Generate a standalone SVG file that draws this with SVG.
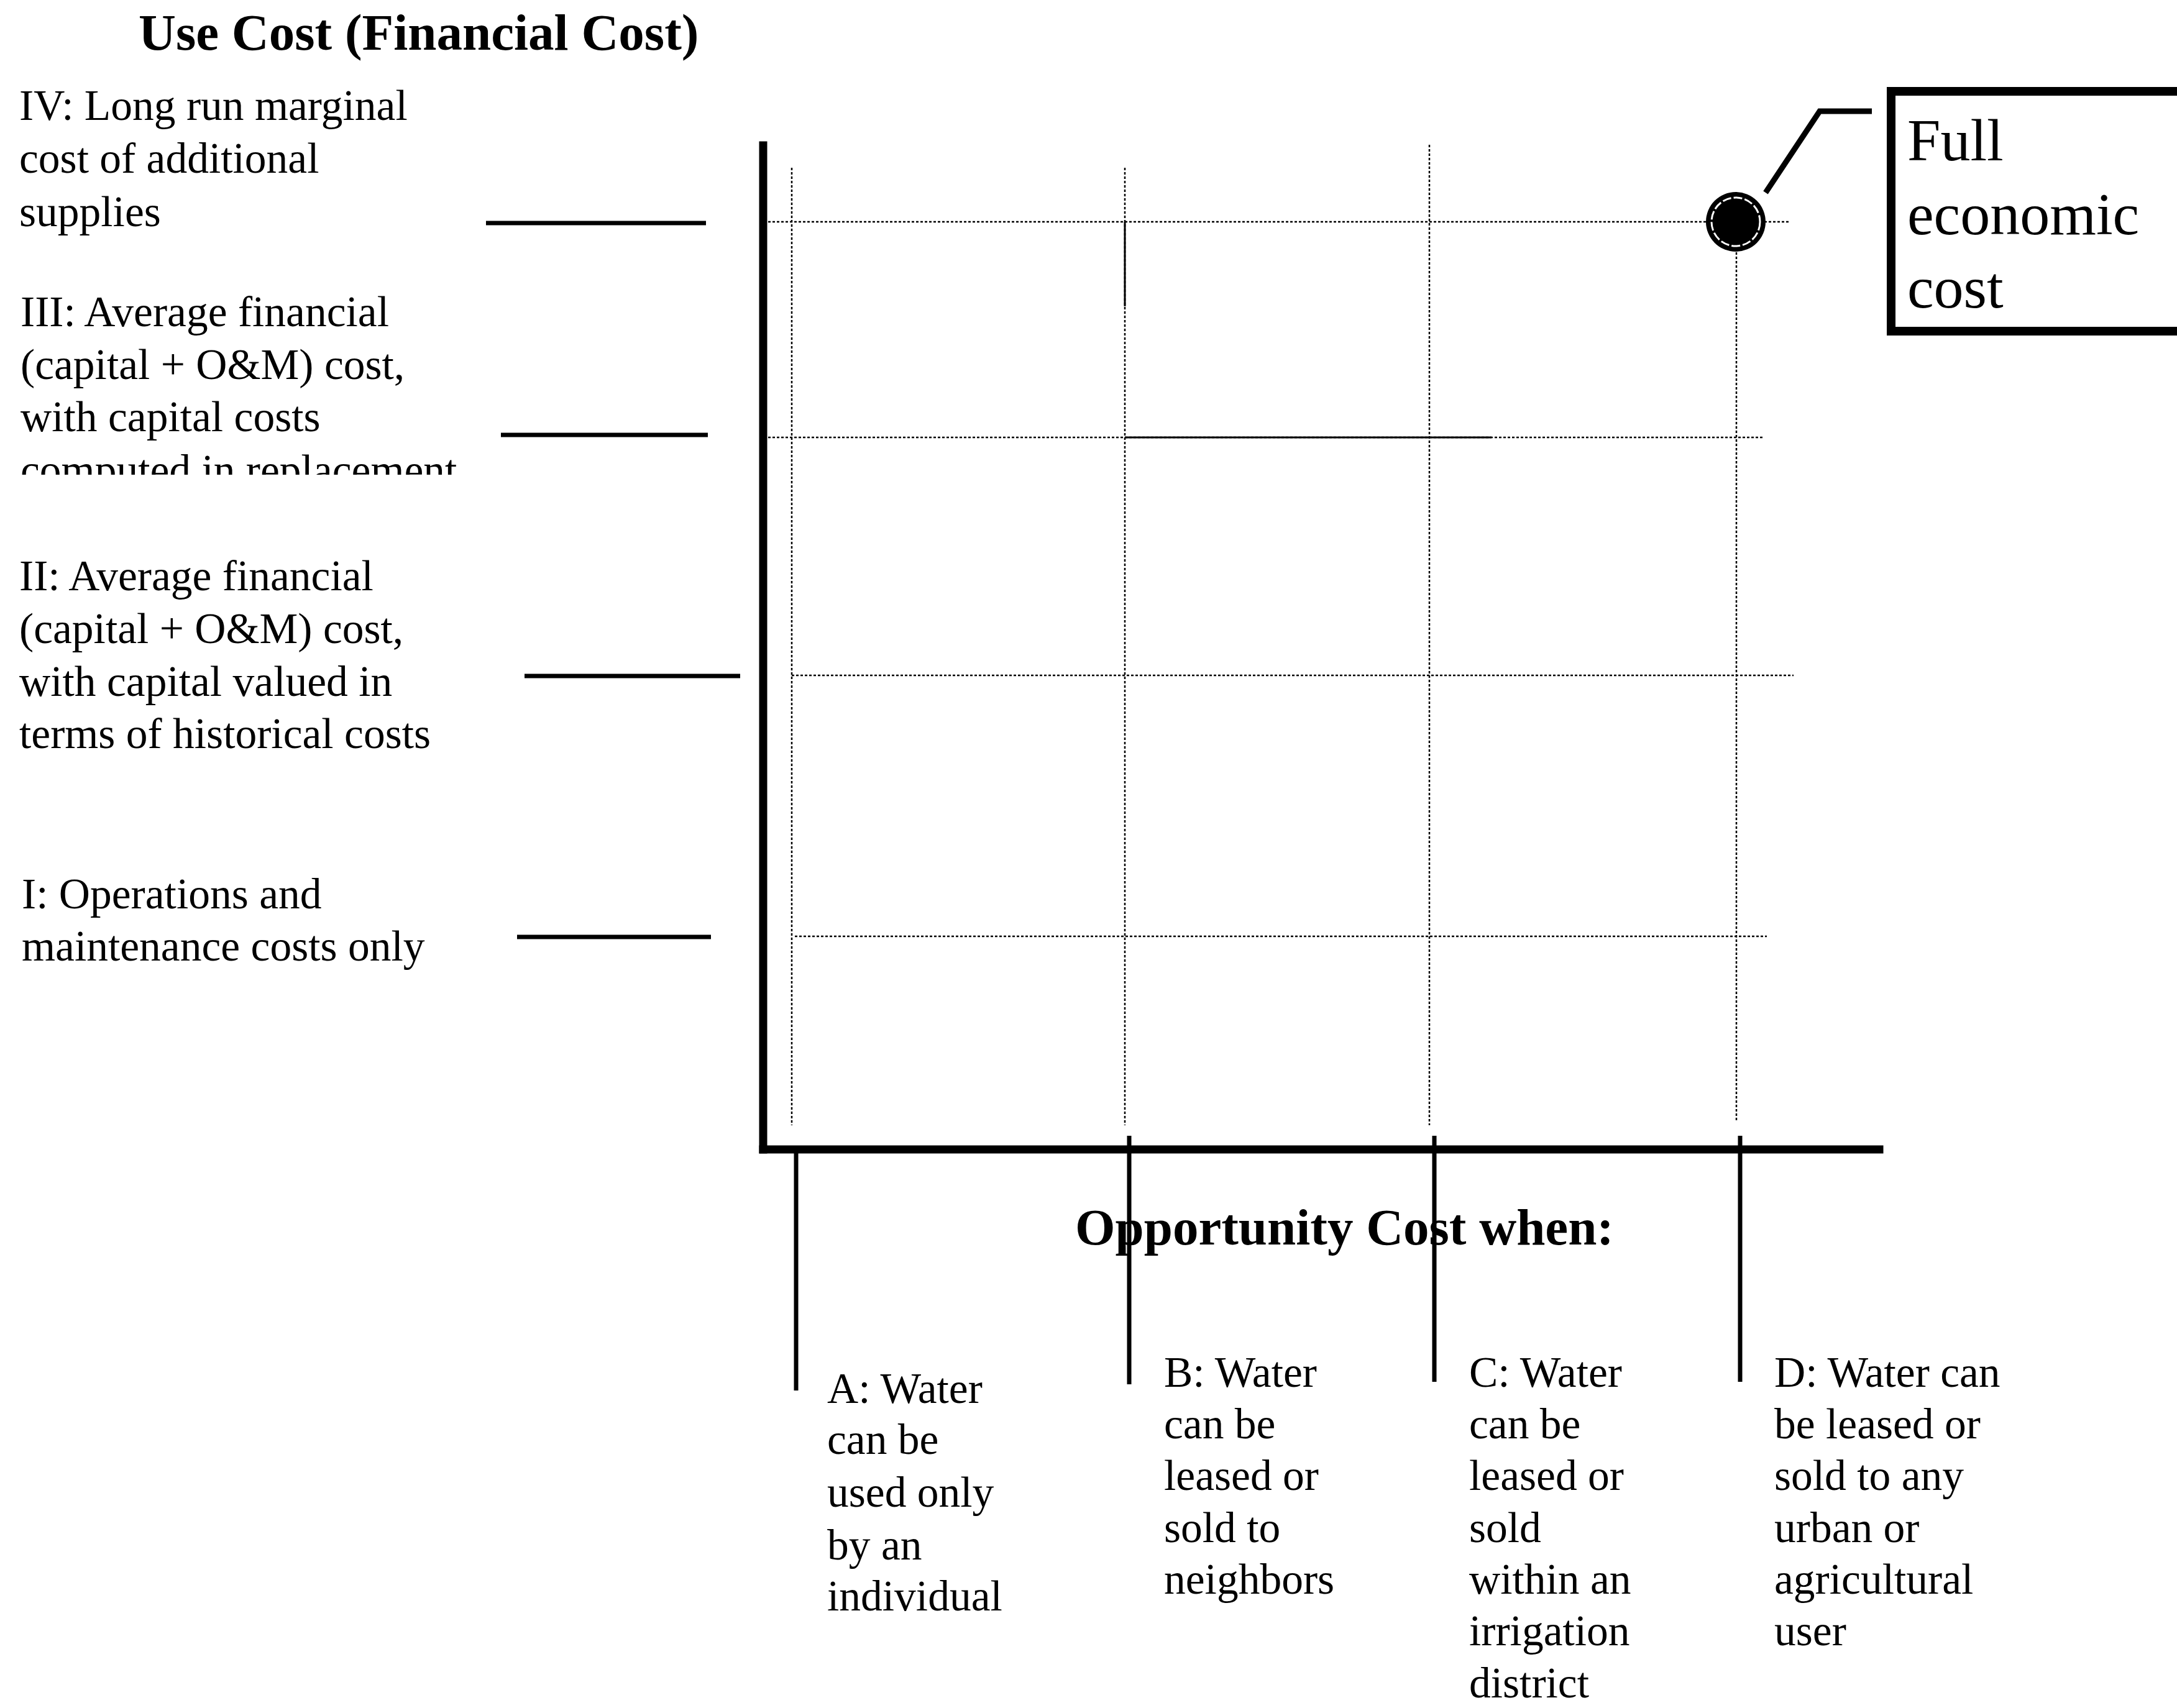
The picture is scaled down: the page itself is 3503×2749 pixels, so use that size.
<svg xmlns="http://www.w3.org/2000/svg" width="3503" height="2749" viewBox="0 0 3503 2749">
<style>
text{font-family:"Liberation Serif","Times New Roman",serif;fill:#000}
.lbl{font-size:69.5px}
.ttl{font-size:83px;font-weight:bold}
.big{font-size:96px}
.axis{stroke:#000;stroke-width:13;stroke-linecap:square;fill:none}
.tick{stroke:#000;stroke-width:7;fill:none}
.grid{stroke:#000;stroke-width:2.5;stroke-dasharray:4 3;fill:none}
.solid{stroke:#000;stroke-width:3;fill:none}
</style>
<defs>
<clipPath id="clipIII"><rect x="0" y="400" width="1200" height="364"/></clipPath>
</defs>
<rect width="3503" height="2749" fill="#fff"/>

<g id="title-y">
<text class="ttl" x="223" y="80">Use Cost (Financial Cost)</text>
</g>

<g id="label-IV" class="lbl">
<text class="lbl" x="31" y="193">IV: Long run marginal</text>
<text class="lbl" x="31" y="278">cost of additional</text>
<text class="lbl" x="31" y="364">supplies</text>
</g>
<g id="label-III" clip-path="url(#clipIII)">
<text class="lbl" x="33" y="525">III: Average financial</text>
<text class="lbl" x="33" y="610">(capital + O&amp;M) cost,</text>
<text class="lbl" x="33" y="694">with capital costs</text>
<text class="lbl" x="33" y="780">computed in replacement</text>
</g>
<g id="label-II">
<text class="lbl" x="31" y="950">II: Average financial</text>
<text class="lbl" x="31" y="1035">(capital + O&amp;M) cost,</text>
<text class="lbl" x="31" y="1120">with capital valued in</text>
<text class="lbl" x="31" y="1204">terms of historical costs</text>
</g>
<g id="label-I">
<text class="lbl" x="35" y="1462">I: Operations and</text>
<text class="lbl" x="35" y="1546">maintenance costs only</text>
</g>

<g id="grid">
<line class="grid" x1="1274" y1="270" x2="1274" y2="1811"/>
<line class="grid" x1="1810" y1="270" x2="1810" y2="1811"/>
<line class="grid" x1="2300" y1="233" x2="2300" y2="1811"/>
<line class="grid" x1="2794" y1="406" x2="2794" y2="1805"/>
<line class="grid" x1="1236" y1="357" x2="2881" y2="357"/>
<line class="grid" x1="1236" y1="704" x2="2838" y2="704"/>
<line class="grid" x1="1274" y1="1087" x2="2886" y2="1087"/>
<line class="grid" x1="1279" y1="1507" x2="2843" y2="1507"/>
<line class="solid" x1="1810" y1="357" x2="1810" y2="493"/>
<line class="solid" x1="1810" y1="704" x2="2400" y2="704"/>
</g>

<g id="connectors">
<line class="tick" x1="782" y1="359" x2="1136" y2="359"/>
<line class="tick" x1="806" y1="700" x2="1139" y2="700"/>
<line class="tick" x1="844" y1="1088" x2="1191" y2="1088"/>
<line class="tick" x1="832" y1="1508" x2="1144" y2="1508"/>
<line class="tick" x1="1281" y1="1850" x2="1281" y2="2238"/>
<line class="tick" x1="1817" y1="1828" x2="1817" y2="2228"/>
<line class="tick" x1="2308" y1="1828" x2="2308" y2="2224"/>
<line class="tick" x1="2800" y1="1828" x2="2800" y2="2224"/>
<polyline points="2841,310 2928,179 3012,179" fill="none" stroke="#000" stroke-width="9"/>
</g>

<g id="axes">
<line class="axis" x1="1228" y1="234" x2="1228" y2="1850"/>
<line class="axis" x1="1228" y1="1850" x2="3024" y2="1850"/>
</g>

<g id="point-full">
<circle cx="2793" cy="357" r="48" fill="#000"/>
<circle cx="2793" cy="357" r="39" fill="none" stroke="#fff" stroke-width="3" stroke-dasharray="14 4"/>
</g>

<g id="callout-full">
<rect x="3043" y="147" width="520" height="386" fill="#fff" stroke="#000" stroke-width="14"/>
<text class="big" x="3069" y="258">Full</text>
<text class="big" x="3069" y="377">economic</text>
<text class="big" x="3069" y="495">cost</text>
</g>

<g id="title-x">
<text class="ttl" x="1730" y="2003">Opportunity Cost when:</text>
</g>

<g id="label-A">
<text class="lbl" x="1331" y="2258">A: Water</text>
<text class="lbl" x="1331" y="2340">can be</text>
<text class="lbl" x="1331" y="2425">used only</text>
<text class="lbl" x="1331" y="2510">by an</text>
<text class="lbl" x="1331" y="2592">individual</text>
</g>
<g id="label-B">
<text class="lbl" x="1873" y="2232">B: Water</text>
<text class="lbl" x="1873" y="2315">can be</text>
<text class="lbl" x="1873" y="2398">leased or</text>
<text class="lbl" x="1873" y="2482">sold to</text>
<text class="lbl" x="1873" y="2565">neighbors</text>
</g>
<g id="label-C">
<text class="lbl" x="2364" y="2232">C: Water</text>
<text class="lbl" x="2364" y="2315">can be</text>
<text class="lbl" x="2364" y="2398">leased or</text>
<text class="lbl" x="2364" y="2482">sold</text>
<text class="lbl" x="2364" y="2565">within an</text>
<text class="lbl" x="2364" y="2648">irrigation</text>
<text class="lbl" x="2364" y="2732">district</text>
</g>
<g id="label-D">
<text class="lbl" x="2855" y="2232">D: Water can</text>
<text class="lbl" x="2855" y="2315">be leased or</text>
<text class="lbl" x="2855" y="2398">sold to any</text>
<text class="lbl" x="2855" y="2482">urban or</text>
<text class="lbl" x="2855" y="2565">agricultural</text>
<text class="lbl" x="2855" y="2648">user</text>
</g>
</svg>
